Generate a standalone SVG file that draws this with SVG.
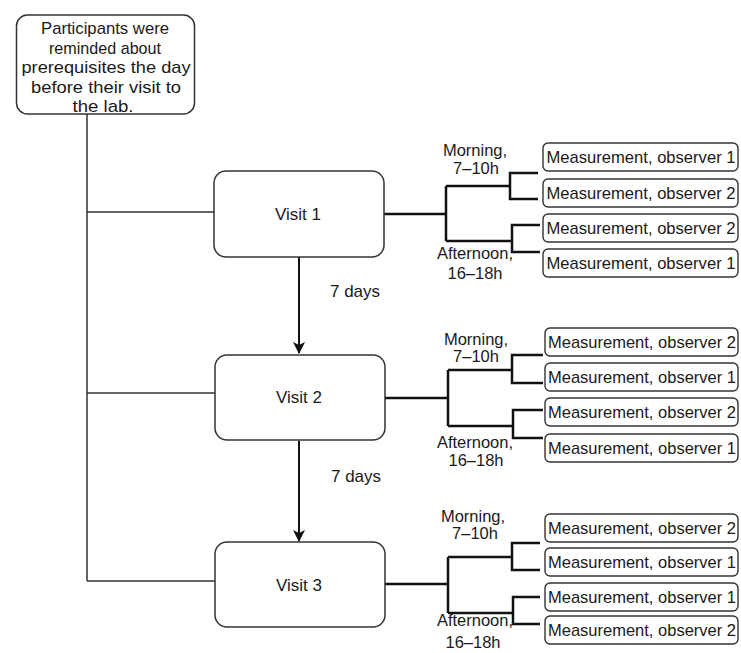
<svg xmlns="http://www.w3.org/2000/svg" width="741" height="653" viewBox="0 0 741 653">
<style>
.bg{fill:#fff}
.box{fill:#fff;stroke:#333;stroke-width:1.5}
.mbox{fill:#fff;stroke:#333;stroke-width:1.4}
.t{font-family:"Liberation Sans",Arial,sans-serif;fill:#1a1a1a;text-anchor:middle}
.tb{font-size:17px}
.tm{font-size:17px}
.tl{font-size:16.5px}
.spine{fill:none;stroke:#333;stroke-width:1.5}
.fork{fill:none;stroke:#111;stroke-width:2.5}
.arr{fill:none;stroke:#111;stroke-width:2}
</style>
<defs>
<marker id="ah" markerUnits="userSpaceOnUse" markerWidth="12" markerHeight="12" viewBox="0 0 12 12" refX="11" refY="6" orient="auto">
<path d="M0,0 L12,6 L0,12 L3,6 z" fill="#111"/>
</marker>
</defs>
<rect class="bg" x="0" y="0" width="741" height="653"/>

<g id="connectors">
<path class="spine" d="M87 114 V581 M87 212 H214 M87 393 H215 M87 581 H215"/>
<path class="arr" d="M299 257 V353" marker-end="url(#ah)"/>
<path class="arr" d="M299 441 V541" marker-end="url(#ah)"/>
<path class="fork" d="M384 214 H446 M446 186 V241 M446 186 H510 M538 173 H510 V199 H538 M446 241 H512 M540 225 H512 V252 H540"/>
<path class="fork" d="M385 398 H448 M448 370 V426 M448 370 H512 M543 355 H512 V383 H543 M448 426 H513 M543 410 H513 V438 H543"/>
<path class="fork" d="M385 584 H448 M448 557 V613 M448 557 H512 M540 543 H512 V570 H540 M448 613 H513 M540 597 H513 V624 H540"/>
</g>

<g id="reminder">
<rect class="box" x="16.5" y="15" width="178" height="99" rx="11"/>
<text class="t tb" x="105" y="34" textLength="128" lengthAdjust="spacingAndGlyphs">Participants were</text>
<text class="t tb" x="105" y="53.5" textLength="112" lengthAdjust="spacingAndGlyphs">reminded about</text>
<text class="t tb" x="106" y="73" textLength="169" lengthAdjust="spacingAndGlyphs">prerequisites the day</text>
<text class="t tb" x="106" y="92.5" textLength="150" lengthAdjust="spacingAndGlyphs">before their visit to</text>
<text class="t tb" x="103" y="112" textLength="61" lengthAdjust="spacingAndGlyphs">the lab.</text>
</g>

<g id="visit1">
<rect class="box" x="214" y="171" width="170" height="86" rx="12"/>
<text class="t tb" x="298" y="220">Visit 1</text>
</g>
<g id="visit2">
<rect class="box" x="215" y="355" width="170" height="85" rx="12"/>
<text class="t tb" x="299" y="403">Visit 2</text>
</g>
<g id="visit3">
<rect class="box" x="215" y="542" width="170" height="85" rx="12"/>
<text class="t tb" x="299" y="591">Visit 3</text>
</g>

<g id="days1"><text class="t tb" x="355" y="297">7 days</text></g>
<g id="days2"><text class="t tb" x="356" y="482">7 days</text></g>

<g id="labels1">
<text class="t tl" x="475" y="156">Morning,</text>
<text class="t tl" x="476" y="174">7–10h</text>
<text class="t tl" x="475" y="259">Afternoon,</text>
<text class="t tl" x="475" y="279">16–18h</text>
</g>
<g id="labels2">
<text class="t tl" x="476" y="345">Morning,</text>
<text class="t tl" x="476" y="362">7–10h</text>
<text class="t tl" x="475" y="448">Afternoon,</text>
<text class="t tl" x="476" y="466">16–18h</text>
</g>
<g id="labels3">
<text class="t tl" x="473" y="522">Morning,</text>
<text class="t tl" x="475" y="539">7–10h</text>
<text class="t tl" x="475" y="626">Afternoon,</text>
<text class="t tl" x="473" y="648">16–18h</text>
</g>

<g id="m1a"><rect class="mbox" x="543" y="143" width="195" height="28" rx="5"/><text class="t tm" x="641" y="163" textLength="189" lengthAdjust="spacingAndGlyphs">Measurement, observer 1</text></g>
<g id="m1b"><rect class="mbox" x="543" y="179" width="195" height="28" rx="5"/><text class="t tm" x="641" y="199" textLength="189" lengthAdjust="spacingAndGlyphs">Measurement, observer 2</text></g>
<g id="m1c"><rect class="mbox" x="543" y="214" width="195" height="28" rx="5"/><text class="t tm" x="641" y="234" textLength="189" lengthAdjust="spacingAndGlyphs">Measurement, observer 2</text></g>
<g id="m1d"><rect class="mbox" x="543" y="249" width="195" height="28" rx="5"/><text class="t tm" x="641" y="269" textLength="189" lengthAdjust="spacingAndGlyphs">Measurement, observer 1</text></g>

<g id="m2a"><rect class="mbox" x="545" y="328" width="193" height="28" rx="5"/><text class="t tm" x="642" y="348" textLength="188" lengthAdjust="spacingAndGlyphs">Measurement, observer 2</text></g>
<g id="m2b"><rect class="mbox" x="545" y="363" width="193" height="28" rx="5"/><text class="t tm" x="642" y="383" textLength="188" lengthAdjust="spacingAndGlyphs">Measurement, observer 1</text></g>
<g id="m2c"><rect class="mbox" x="545" y="398" width="193" height="28" rx="5"/><text class="t tm" x="642" y="418" textLength="188" lengthAdjust="spacingAndGlyphs">Measurement, observer 2</text></g>
<g id="m2d"><rect class="mbox" x="545" y="434" width="193" height="28" rx="5"/><text class="t tm" x="642" y="454" textLength="188" lengthAdjust="spacingAndGlyphs">Measurement, observer 1</text></g>

<g id="m3a"><rect class="mbox" x="545" y="514" width="193" height="28" rx="5"/><text class="t tm" x="642" y="534" textLength="188" lengthAdjust="spacingAndGlyphs">Measurement, observer 2</text></g>
<g id="m3b"><rect class="mbox" x="545" y="548" width="193" height="28" rx="5"/><text class="t tm" x="642" y="568" textLength="188" lengthAdjust="spacingAndGlyphs">Measurement, observer 1</text></g>
<g id="m3c"><rect class="mbox" x="545" y="583" width="193" height="28" rx="5"/><text class="t tm" x="642" y="603" textLength="188" lengthAdjust="spacingAndGlyphs">Measurement, observer 1</text></g>
<g id="m3d"><rect class="mbox" x="545" y="616" width="193" height="28" rx="5"/><text class="t tm" x="642" y="636" textLength="188" lengthAdjust="spacingAndGlyphs">Measurement, observer 2</text></g>
</svg>
